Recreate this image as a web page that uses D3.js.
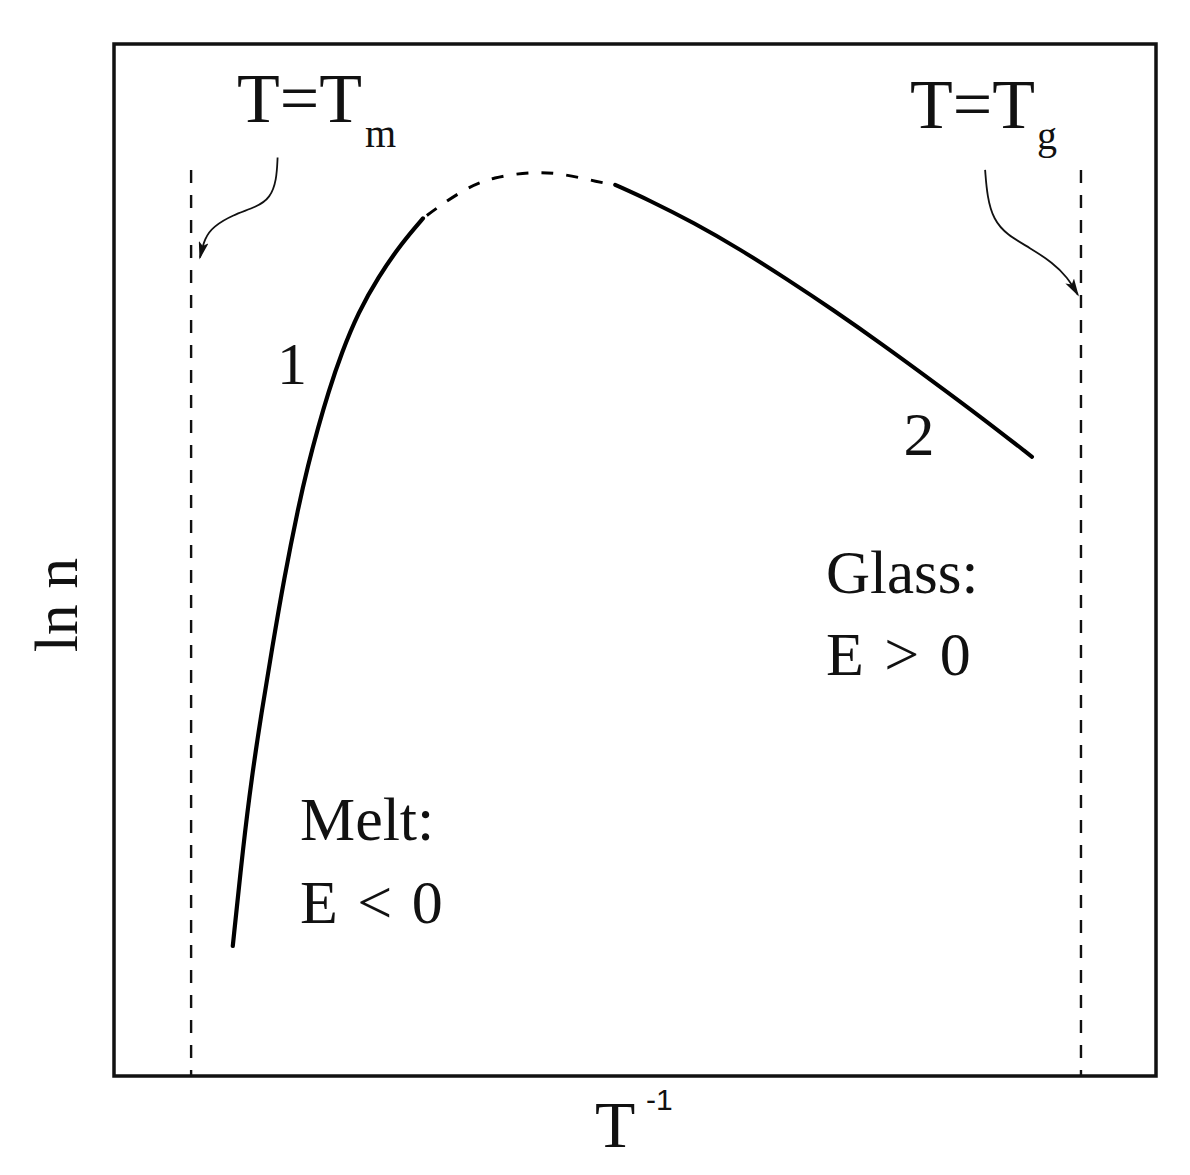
<!DOCTYPE html>
<html>
<head>
<meta charset="utf-8">
<script src="https://cdn.jsdelivr.net/npm/d3@7"></script>
<style>
  html, body { margin: 0; padding: 0; background: #fff; }
  svg { display: block; }
  text { font-family: "Liberation Serif", "Times New Roman", serif; fill: #111; }
</style>
</head>
<body>
<svg id="chart" width="1190" height="1175"></svg>
<script>
// ---- Data (arbitrary units: T^-1 on x, ln n on y, both 0..100) ----
const branch1X = [11.4, 12.4, 13.2, 14.15, 15.2, 16.3, 17.7, 18.6, 19.6, 20.55, 21.85, 23.45, 25.35, 27.6, 29.65];
const branch1Y = [12.6, 22.3, 28.8, 35.2, 41.6, 48.1, 55.2, 59.1, 62.9, 66.2, 70.1, 74.0, 77.4, 80.7, 83.1];

const crossoverX = [29.65, 31.1, 33.9, 36.4, 39.9, 42.8, 46.6, 48.1];
const crossoverY = [83.1, 84.2, 86.1, 87.1, 87.6, 87.5, 86.6, 86.35];

const branch2X = [48.1, 51.4, 55.6, 60.1, 64.6, 69.0, 73.8, 78.6, 83.4, 88.1];
const branch2Y = [86.35, 84.85, 82.7, 80.1, 77.2, 74.25, 70.85, 67.3, 63.7, 60.0];

const limitX = [7.4, 92.8];           // T = Tm, T = Tg
const limitTop = 87.8;

const arrowMX = [15.7, 15.6, 15.0, 13.7, 11.4, 9.5, 8.7, 8.25];
const arrowMY = [89.0, 86.8, 85.1, 84.2, 83.45, 82.3, 81.2, 79.3];
const arrowGX = [83.6, 83.8, 84.4, 85.7, 87.9, 90.1, 91.5, 92.5];
const arrowGY = [87.8, 85.2, 83.0, 81.5, 80.25, 78.8, 77.4, 75.7];

const xLabel = "T", xLabelSup = "-1";
const yLabel = "ln n";

// ---- Layout ----
const svg = d3.select("#chart");
const L = 114, R = 1156, T = 44, B = 1076;
const x = d3.scaleLinear().domain([0, 100]).range([L, R]);
const y = d3.scaleLinear().domain([0, 100]).range([B, T]);

const zip = (xs, ys) => xs.map((v, i) => [v, ys[i]]);
const line = d3.line().x(d => x(d[0])).y(d => y(d[1])).curve(d3.curveBasis);

// arrow marker
svg.append("defs").append("marker")
  .attr("id", "head").attr("viewBox", "0 0 18 10").attr("refX", 16).attr("refY", 5)
  .attr("markerWidth", 18).attr("markerHeight", 10).attr("markerUnits", "userSpaceOnUse")
  .attr("orient", "auto")
  .append("path").attr("d", "M0,0 L18,5 L0,10 L4,5 Z").attr("fill", "#111");

// frame
svg.append("rect")
  .attr("x", x(0)).attr("y", y(100))
  .attr("width", x(100) - x(0)).attr("height", y(0) - y(100))
  .attr("fill", "none").attr("stroke", "#111").attr("stroke-width", 3.5);

// vertical limits
svg.selectAll("line.limit").data(limitX).join("line")
  .attr("class", "limit")
  .attr("x1", d => x(d)).attr("x2", d => x(d))
  .attr("y1", y(limitTop)).attr("y2", y(0))
  .attr("stroke", "#111").attr("stroke-width", 2.4).attr("stroke-dasharray", "13,12");

// curves
svg.append("path").datum(zip(branch1X, branch1Y))
  .attr("d", line).attr("fill", "none").attr("stroke", "#000").attr("stroke-width", 4.2)
  .attr("stroke-linecap", "round");
svg.append("path").datum(zip(crossoverX, crossoverY))
  .attr("d", line).attr("fill", "none").attr("stroke", "#000").attr("stroke-width", 3)
  .attr("stroke-dasharray", "12,13").attr("stroke-dashoffset", 20);
svg.append("path").datum(zip(branch2X, branch2Y))
  .attr("d", line).attr("fill", "none").attr("stroke", "#000").attr("stroke-width", 4)
  .attr("stroke-linecap", "round");

// annotation arrows
[zip(arrowMX, arrowMY), zip(arrowGX, arrowGY)].forEach(pts => {
  svg.append("path").datum(pts).attr("d", line)
    .attr("fill", "none").attr("stroke", "#111").attr("stroke-width", 1.8)
    .attr("marker-end", "url(#head)");
});

// labels
function sub(xp, yp, main, s, sx, sy, size, ssize) {
  svg.append("text").attr("x", xp).attr("y", yp).attr("font-size", size).text(main);
  svg.append("text").attr("x", sx).attr("y", sy).attr("font-size", ssize).text(s);
}
sub(237, 122, "T=T", "m", 365, 147, 70, 40);
sub(910, 128, "T=T", "g", 1037, 149, 70, 40);

svg.append("text").attr("x", 292).attr("y", 384).attr("font-size", 60)
  .attr("text-anchor", "middle").text("1");
svg.append("text").attr("x", 919).attr("y", 455).attr("font-size", 62)
  .attr("text-anchor", "middle").text("2");

svg.append("text").attr("x", 300).attr("y", 840).attr("font-size", 62).text("Melt:");
svg.append("text").attr("x", 300).attr("y", 923).attr("font-size", 62)
  .attr("word-spacing", 4).text("E < 0");
svg.append("text").attr("x", 826).attr("y", 593).attr("font-size", 61).text("Glass:");
svg.append("text").attr("x", 826).attr("y", 675).attr("font-size", 62)
  .attr("word-spacing", 5).text("E > 0");

// axis titles
svg.append("text").attr("x", 595).attr("y", 1147).attr("font-size", 66).text(xLabel);
svg.append("text").attr("x", 646).attr("y", 1110).attr("font-size", 30)
  .style("font-family", "'Liberation Sans', Arial, sans-serif").text(xLabelSup);
svg.append("text")
  .attr("transform", "translate(77,605) rotate(-90)")
  .attr("text-anchor", "middle").attr("font-size", 62).text(yLabel);
</script>
</body>
</html>
